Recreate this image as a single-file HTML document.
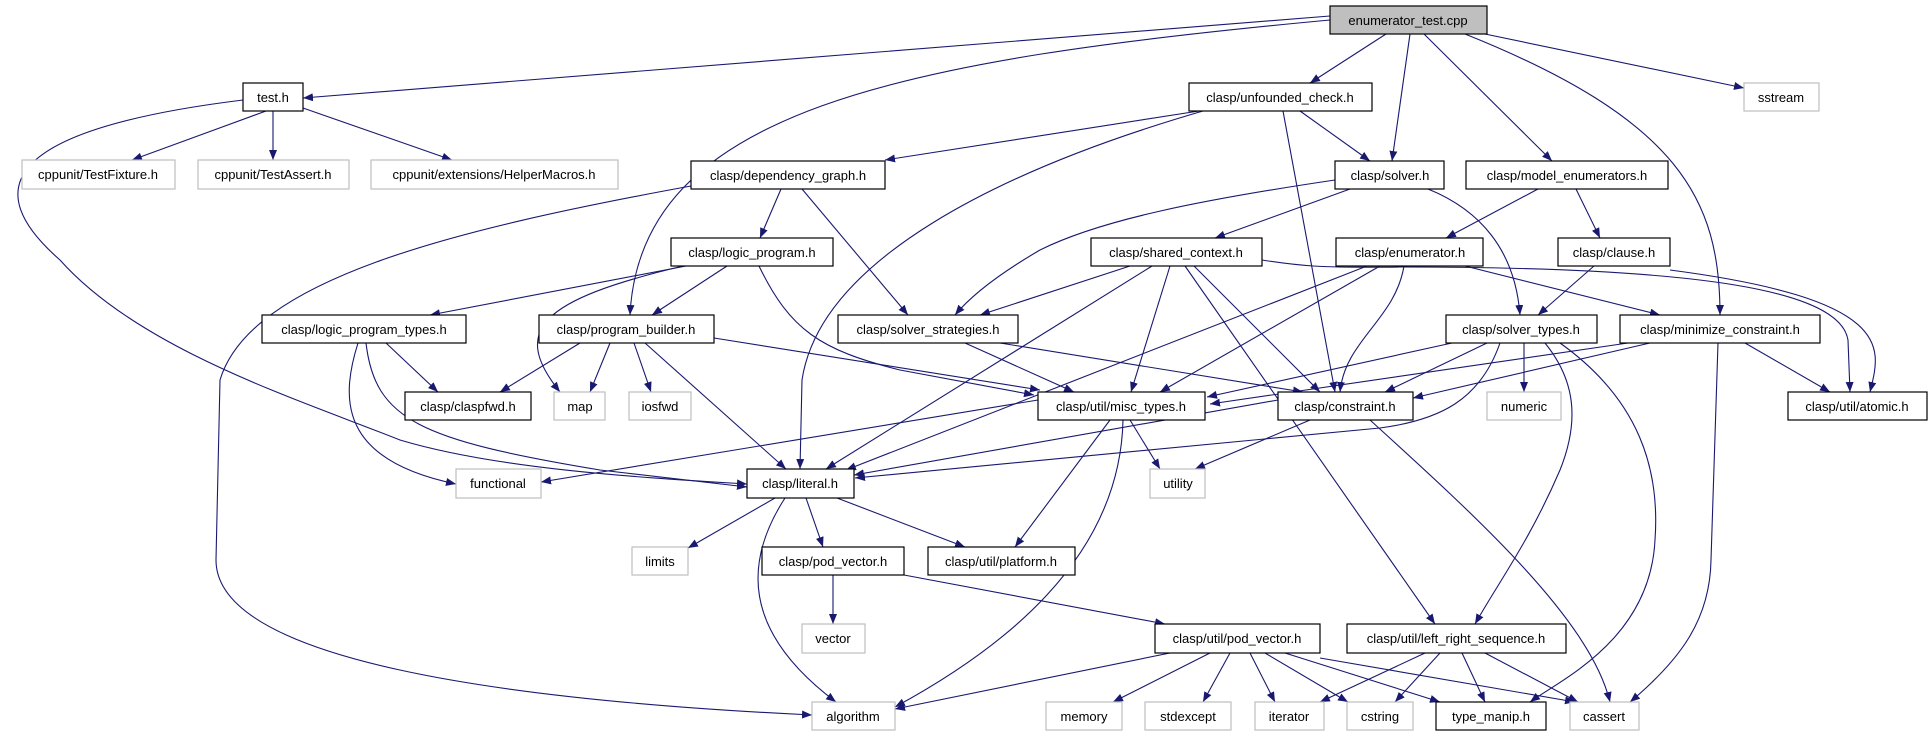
<!DOCTYPE html>
<html><head><meta charset="utf-8"><style>
html,body{margin:0;padding:0;background:#fff;}
svg{display:block;}
text{font-family:"Liberation Sans",sans-serif;font-size:13px;fill:#000;text-anchor:middle;}
.e{fill:none;stroke:#191970;stroke-width:1.1;marker-end:url(#a);}
.n{fill:#fff;stroke:#000;stroke-width:1.2;}
.g{fill:#fff;stroke:#bfbfbf;stroke-width:1.2;}
</style></head><body>
<svg width="1932" height="736" viewBox="0 0 1932 736" xmlns="http://www.w3.org/2000/svg">
<defs><marker id="a" markerUnits="userSpaceOnUse" markerWidth="11" markerHeight="8" refX="10" refY="4" orient="auto"><path d="M0,0 L10,4 L0,8 z" fill="#191970"/></marker></defs>
<g>
<path class="e" d="M1330,16 L303,98"/>
<path class="e" d="M1330,20 C900,60 640,110 630,315"/>
<path class="e" d="M1386,34 L1310,83"/>
<path class="e" d="M1410,34 L1392,161"/>
<path class="e" d="M1424,34 L1552,161"/>
<path class="e" d="M1465,34 C1680,120 1720,200 1720,315"/>
<path class="e" d="M1485,34 L1744,88"/>
<path class="e" d="M266,111 L132,160"/>
<path class="e" d="M273,111 L273,160"/>
<path class="e" d="M303,108 L452,160"/>
<path class="e" d="M243,100 C0,130 -20,190 60,260 C140,350 300,400 400,440 C500,470 650,478 747,484"/>
<path class="e" d="M1199,111 L885,160"/>
<path class="e" d="M1300,111 L1370,161"/>
<path class="e" d="M1283,111 L1335,392"/>
<path class="e" d="M1203,111 C1000,170 820,260 802,380 L800,469"/>
<path class="e" d="M781,189 L760,238"/>
<path class="e" d="M802,189 L908,315"/>
<path class="e" d="M691,186 C450,230 250,280 220,380 L216,560 C216,660 500,700 812,715"/>
<path class="e" d="M1350,189 L1215,238"/>
<path class="e" d="M1335,180 C1200,200 1100,220 1040,250 Q980,285 955,315"/>
<path class="e" d="M1428,189 C1480,210 1515,250 1520,315"/>
<path class="e" d="M1538,189 L1446,238"/>
<path class="e" d="M1576,189 L1600,238"/>
<path class="e" d="M686,266 L430,315"/>
<path class="e" d="M727,266 L652,315"/>
<path class="e" d="M683,266 C540,300 510,330 560,392"/>
<path class="e" d="M759,266 C790,330 820,350 900,370 L1034,395"/>
<path class="e" d="M1130,266 L980,315"/>
<path class="e" d="M1152,266 L826,469"/>
<path class="e" d="M1170,266 L1131,392"/>
<path class="e" d="M1185,266 L1435,624"/>
<path class="e" d="M1194,266 L1320,392"/>
<path class="e" d="M1262,260 C1300,266 1320,268 1400,267 C1700,267 1840,290 1848,340 L1850,392"/>
<path class="e" d="M1367,266 L846,470"/>
<path class="e" d="M1380,266 L1160,392"/>
<path class="e" d="M1404,266 C1395,320 1345,340 1340,392"/>
<path class="e" d="M1465,266 L1660,315"/>
<path class="e" d="M1594,266 L1538,315"/>
<path class="e" d="M1670,270 C1900,300 1880,350 1870,392"/>
<path class="e" d="M386,343 L438,392"/>
<path class="e" d="M358,343 C340,400 340,460 456,484"/>
<path class="e" d="M366,343 C375,420 420,440 600,470 L747,487"/>
<path class="e" d="M580,343 L500,392"/>
<path class="e" d="M610,343 L590,392"/>
<path class="e" d="M634,343 L651,392"/>
<path class="e" d="M645,343 L786,469"/>
<path class="e" d="M714,338 L1040,390"/>
<path class="e" d="M965,343 L1074,392"/>
<path class="e" d="M1000,343 L1303,392"/>
<path class="e" d="M1452,343 L1207,397"/>
<path class="e" d="M1487,343 L1385,392"/>
<path class="e" d="M1524,343 L1524,392"/>
<path class="e" d="M1500,343 C1480,400 1440,420 1380,428 L855,478"/>
<path class="e" d="M1545,343 C1575,380 1580,420 1560,470 C1530,540 1500,580 1475,624"/>
<path class="e" d="M1560,343 C1640,400 1660,470 1655,540 C1650,640 1560,680 1530,702"/>
<path class="e" d="M1628,343 L1210,404"/>
<path class="e" d="M1650,343 L1413,398"/>
<path class="e" d="M1745,343 L1830,392"/>
<path class="e" d="M1718,343 L1711,560 C1710,620 1680,660 1630,702"/>
<path class="e" d="M1038,400 L541,482"/>
<path class="e" d="M1130,420 L1160,469"/>
<path class="e" d="M1110,420 L1015,547"/>
<path class="e" d="M1123,420 C1120,560 1000,650 895,707"/>
<path class="e" d="M1278,400 L854,475"/>
<path class="e" d="M1310,420 L1195,469"/>
<path class="e" d="M1370,420 C1480,520 1590,620 1610,702"/>
<path class="e" d="M775,498 L688,548"/>
<path class="e" d="M806,498 L823,547"/>
<path class="e" d="M837,498 L965,547"/>
<path class="e" d="M785,498 C745,560 740,630 836,702"/>
<path class="e" d="M833,575 L833,624"/>
<path class="e" d="M904,575 L1165,624"/>
<path class="e" d="M1170,653 L895,709"/>
<path class="e" d="M1210,653 L1113,702"/>
<path class="e" d="M1230,653 L1203,702"/>
<path class="e" d="M1250,653 L1275,702"/>
<path class="e" d="M1265,653 L1348,702"/>
<path class="e" d="M1285,653 L1440,702"/>
<path class="e" d="M1320,658 L1575,702"/>
<path class="e" d="M1425,653 L1320,702"/>
<path class="e" d="M1440,653 L1395,702"/>
<path class="e" d="M1462,653 L1485,702"/>
<path class="e" d="M1485,653 L1578,702"/>
</g>
<g>
<rect x="1330" y="6" width="157" height="28" fill="#bfbfbf" stroke="#000" stroke-width="1.2"/><text x="1408" y="25">enumerator_test.cpp</text>
<rect class="n" x="243" y="83" width="60" height="28"/><text x="273" y="102">test.h</text>
<rect class="g" x="22" y="160" width="153" height="29"/><text x="98" y="179">cppunit/TestFixture.h</text>
<rect class="g" x="198" y="160" width="151" height="29"/><text x="273" y="179">cppunit/TestAssert.h</text>
<rect class="g" x="371" y="160" width="247" height="29"/><text x="494" y="179">cppunit/extensions/HelperMacros.h</text>
<rect class="n" x="1189" y="83" width="183" height="28"/><text x="1280" y="102">clasp/unfounded_check.h</text>
<rect class="g" x="1744" y="83" width="75" height="28"/><text x="1781" y="102">sstream</text>
<rect class="n" x="691" y="161" width="194" height="28"/><text x="788" y="180">clasp/dependency_graph.h</text>
<rect class="n" x="1335" y="161" width="109" height="28"/><text x="1390" y="180">clasp/solver.h</text>
<rect class="n" x="1466" y="161" width="202" height="28"/><text x="1567" y="180">clasp/model_enumerators.h</text>
<rect class="n" x="671" y="238" width="162" height="28"/><text x="752" y="257">clasp/logic_program.h</text>
<rect class="n" x="1091" y="238" width="171" height="28"/><text x="1176" y="257">clasp/shared_context.h</text>
<rect class="n" x="1336" y="238" width="147" height="28"/><text x="1410" y="257">clasp/enumerator.h</text>
<rect class="n" x="1558" y="238" width="112" height="28"/><text x="1614" y="257">clasp/clause.h</text>
<rect class="n" x="262" y="315" width="204" height="28"/><text x="364" y="334">clasp/logic_program_types.h</text>
<rect class="n" x="539" y="315" width="175" height="28"/><text x="626" y="334">clasp/program_builder.h</text>
<rect class="n" x="838" y="315" width="180" height="28"/><text x="928" y="334">clasp/solver_strategies.h</text>
<rect class="n" x="1446" y="315" width="151" height="28"/><text x="1521" y="334">clasp/solver_types.h</text>
<rect class="n" x="1620" y="315" width="200" height="28"/><text x="1720" y="334">clasp/minimize_constraint.h</text>
<rect class="n" x="405" y="392" width="126" height="28"/><text x="468" y="411">clasp/claspfwd.h</text>
<rect class="g" x="554" y="392" width="51" height="28"/><text x="580" y="411">map</text>
<rect class="g" x="629" y="392" width="62" height="28"/><text x="660" y="411">iosfwd</text>
<rect class="n" x="1038" y="392" width="167" height="28"/><text x="1121" y="411">clasp/util/misc_types.h</text>
<rect class="n" x="1278" y="392" width="135" height="28"/><text x="1345" y="411">clasp/constraint.h</text>
<rect class="g" x="1487" y="392" width="74" height="28"/><text x="1524" y="411">numeric</text>
<rect class="n" x="1788" y="392" width="139" height="28"/><text x="1857" y="411">clasp/util/atomic.h</text>
<rect class="g" x="456" y="469" width="85" height="29"/><text x="498" y="488">functional</text>
<rect class="n" x="747" y="469" width="107" height="29"/><text x="800" y="488">clasp/literal.h</text>
<rect class="g" x="1150" y="469" width="55" height="29"/><text x="1178" y="488">utility</text>
<rect class="g" x="632" y="547" width="56" height="28"/><text x="660" y="566">limits</text>
<rect class="n" x="762" y="547" width="142" height="28"/><text x="833" y="566">clasp/pod_vector.h</text>
<rect class="n" x="928" y="547" width="147" height="28"/><text x="1001" y="566">clasp/util/platform.h</text>
<rect class="g" x="802" y="624" width="63" height="29"/><text x="833" y="643">vector</text>
<rect class="n" x="1155" y="624" width="165" height="29"/><text x="1237" y="643">clasp/util/pod_vector.h</text>
<rect class="n" x="1347" y="624" width="219" height="29"/><text x="1456" y="643">clasp/util/left_right_sequence.h</text>
<rect class="g" x="812" y="702" width="83" height="28"/><text x="853" y="721">algorithm</text>
<rect class="g" x="1046" y="702" width="76" height="28"/><text x="1084" y="721">memory</text>
<rect class="g" x="1145" y="702" width="86" height="28"/><text x="1188" y="721">stdexcept</text>
<rect class="g" x="1255" y="702" width="69" height="28"/><text x="1289" y="721">iterator</text>
<rect class="g" x="1347" y="702" width="66" height="28"/><text x="1380" y="721">cstring</text>
<rect class="n" x="1436" y="702" width="110" height="28"/><text x="1491" y="721">type_manip.h</text>
<rect class="g" x="1570" y="702" width="69" height="28"/><text x="1604" y="721">cassert</text>
</g>
</svg>
</body></html>
